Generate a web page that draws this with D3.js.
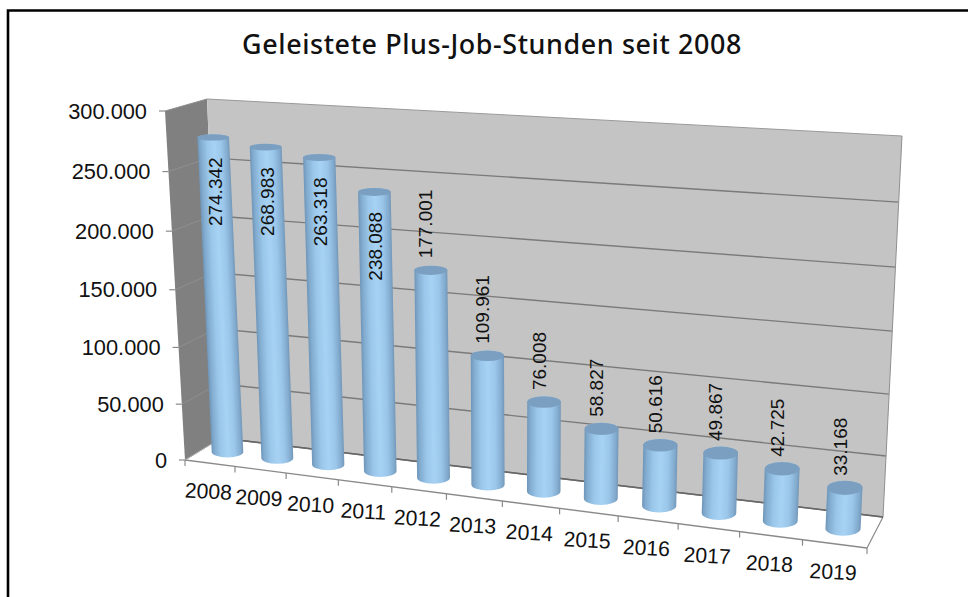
<!DOCTYPE html>
<html><head><meta charset="utf-8">
<script src="https://cdnjs.cloudflare.com/ajax/libs/d3/7.8.5/d3.min.js"></script>
<style>html,body{margin:0;padding:0;background:#fff}svg{display:block}text{font-family:"Liberation Sans",Arial,sans-serif;fill:#111}</style>
</head><body><svg id="c" width="968" height="597"></svg>
<script>
const titleText = "Geleistete Plus-Job-Stunden seit 2008";
const categories = ["2008","2009","2010","2011","2012","2013","2014","2015","2016","2017","2018","2019"];
const values = [274342,268983,263318,238088,177001,109961,76008,58827,50616,49867,42725,33168];
const yTicks = [0,50000,100000,150000,200000,250000,300000];

const svg = d3.select("#c");
const fmt = d3.formatLocale({decimal:",",thousands:".",grouping:[3],currency:["","€"]}).format(",d");

// plain scales, then a perspective warp onto the 3D box
const xBand = d3.scaleBand().domain(categories).range([0,1]).padding(0);
const yVal = d3.scaleLinear().domain([0,300000]).range([0,1]);
const persp = (t,k)=>t/(1+k*(1-t));
const box = {
  flb:[185,460], frb:[867,548], blb:[221,438], brb:[883,517],
  flt:[165,111], frt:[886,156], blt:[207,99],  brt:[902,136]
};
const mix=(a,b,t)=>[a[0]+(b[0]-a[0])*t,a[1]+(b[1]-a[1])*t];
function P(u,w,v){
  const su=persp(u,0.149), sv=persp(v,0.05);
  const fb=mix(box.flb,box.frb,su), bb=mix(box.blb,box.brb,su);
  const ft=mix(box.flt,box.frt,su), bt=mix(box.blt,box.brt,su);
  return mix(mix(fb,bb,w),mix(ft,bt,w),sv);
}
const poly=pts=>"M"+pts.map(p=>p[0].toFixed(1)+","+p[1].toFixed(1)).join("L")+"Z";
const defs=svg.append("defs");

// frame
svg.append("path").attr("d","M8,597V10.5H968").attr("fill","none").attr("stroke","#000").attr("stroke-width",2.6);

// title
svg.append("text").attr("x",492).attr("y",54).attr("text-anchor","middle")
  .style("font-family","'Noto Sans'").style("font-size","26.9px").style("font-weight",500).style("letter-spacing","0.6px").text(titleText);

// walls
svg.append("path").attr("d",poly([box.flb,box.blb,box.blt,box.flt])).attr("fill","#808080");
svg.append("path").attr("d",poly([box.blb,box.brb,box.brt,box.blt])).attr("fill","#c4c4c4");
svg.append("path").attr("d",poly([box.flb,box.frb,box.brb,box.blb])).attr("fill","#fff");

// grid lines
yTicks.forEach(t=>{
  const v=yVal(t), a=P(0,0,v), b=P(0,1,v), c=P(1,1,v);
  svg.append("line").attr("x1",a[0]).attr("y1",a[1]).attr("x2",b[0]).attr("y2",b[1]).attr("stroke","#8f8f8f").attr("stroke-width",1);
  svg.append("line").attr("x1",b[0]).attr("y1",b[1]).attr("x2",c[0]).attr("y2",c[1]).attr("stroke",t===300000?"#9a9a9a":"#7a7a7a").attr("stroke-width",t===300000?1:1.4);
  svg.append("line").attr("x1",a[0]-6).attr("y1",a[1]).attr("x2",a[0]).attr("y2",a[1]).attr("stroke","#8a8a8a").attr("stroke-width",1.2);
  svg.append("text").attr("x",a[0]-18).attr("y",a[1]).attr("dy","0.35em").attr("text-anchor","end").style("font-size","21.8px").text(fmt(t));
});
// box edges
const edge=(a,b,c,w)=>svg.append("line").attr("x1",a[0]).attr("y1",a[1]).attr("x2",b[0]).attr("y2",b[1]).attr("stroke",c).attr("stroke-width",w);
edge(box.flb,box.frb,"#8a8a8a",1.4);
edge(box.frb,box.brb,"#8a8a8a",1.2);
edge(box.flb,box.blb,"#a8a8a8",1);
edge(box.brb,box.brt,"#8f8f8f",1);
edge(box.blb,box.brb,"#666",1.4);

// category ticks & labels
const step=xBand.step();
d3.range(categories.length+1).forEach(i=>{
  const p=P(i*step,0,0);
  svg.append("line").attr("x1",p[0]).attr("y1",p[1]).attr("x2",p[0]).attr("y2",p[1]+6).attr("stroke","#8a8a8a").attr("stroke-width",1.2);
});
categories.forEach(c=>{
  const p=P(xBand(c)+step/2,0,0), x=p[0]-1.5, y=p[1]+28;
  svg.append("text").attr("x",x).attr("y",y).attr("dy","0.35em").attr("text-anchor","middle")
    .attr("transform",`rotate(3 ${x} ${y})`).style("font-size","21.2px").text(c);
});

// bars
const rx=d3.scaleLinear().domain([0,categories.length-1]).range([15.8,17.6]);
const DEPTH=0.48;
const geo=categories.map((c,i)=>{
  const u=xBand(c)+step/2, v=yVal(values[i]);
  const t=P(u,.5,v), b=P(u,.5,0), r=rx(i);
  const ryT=DEPTH/2*Math.abs(P(u,1,v)[1]-P(u,0,v)[1]);
  const ryB=DEPTH/2*Math.abs(P(u,1,0)[1]-P(u,0,0)[1]);
  return {c,i,t,b,r,ryT,ryB};
});
geo.forEach(g=>{
  const ax=g.b[0]-g.t[0], ay=g.b[1]-g.t[1], L=Math.hypot(ax,ay), nx=ay/L, ny=-ax/L;
  const grad=defs.append("linearGradient").attr("id","g"+g.i).attr("gradientUnits","userSpaceOnUse")
    .attr("x1",g.t[0]-g.r*nx).attr("y1",g.t[1]-g.r*ny).attr("x2",g.t[0]+g.r*nx).attr("y2",g.t[1]+g.r*ny);
  [[0,"#6f96b8"],[0.1,"#82acd0"],[0.3,"#9ac7ea"],[0.52,"#a7d2f4"],[0.74,"#9ac6e9"],[0.92,"#82abce"],[1,"#7397b8"]]
    .forEach(s=>grad.append("stop").attr("offset",s[0]).attr("stop-color",s[1]));
  const d=`M${g.t[0]-g.r},${g.t[1]}L${g.b[0]-g.r},${g.b[1]}A${g.r},${g.ryB} 0 0 0 ${g.b[0]+g.r},${g.b[1]}L${g.t[0]+g.r},${g.t[1]}A${g.r},${g.ryT} 0 0 0 ${g.t[0]-g.r},${g.t[1]}Z`;
  svg.append("path").attr("d",d).attr("fill",`url(#g${g.i})`);
  svg.append("ellipse").attr("cx",g.t[0]).attr("cy",g.t[1]).attr("rx",g.r).attr("ry",g.ryT).attr("fill","#7a9fc1");
});

// value labels
geo.forEach(g=>{
  const inside=values[g.i]>200000;
  const yEdge=inside?g.t[1]+20:g.t[1]-12;
  const x=inside?g.t[0]+(g.b[0]-g.t[0])*0.16:g.t[0]-5;
  svg.append("text").attr("transform",`translate(${x},${yEdge}) rotate(-90)`)
    .attr("dy","0.35em").attr("text-anchor",inside?"end":"start").style("font-size","19px").text(fmt(values[g.i]));
});
</script></body></html>
